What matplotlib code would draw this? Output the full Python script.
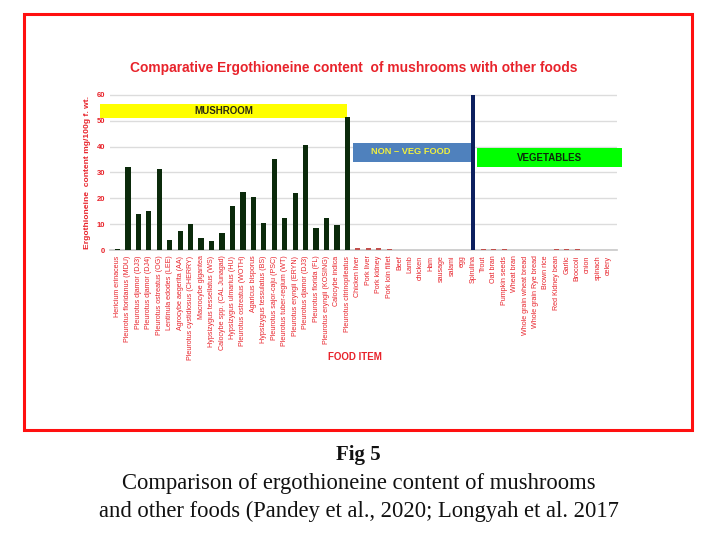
import matplotlib
matplotlib.use("Agg")
import matplotlib.pyplot as plt
from matplotlib.patches import Rectangle

mushrooms = ["Hericium erinaceus", "Pleurotus floridanus (MDU)", "Pleurotus djamor (DJ3)",
             "Pleurotus djamor (DJ4)", "Pleurotus ostreatus (OG)", "Lentinula edodes (LEE)",
             "Agrocybe aegerita (AA)", "Pleurotus cystidiosus (CHERRY)", "Macrocybe gigantea",
             "Hypsizygus tessellatus (WS)", "Calocybe spp. (CAL Junagad)", "Hypsizygus ulmarius (HU)",
             "Pleurotus ostreatus (WOTH)", "Agaricus bisporus", "Hypsizygus tessulatus (BS)",
             "Pleurotus sajor-caju (PSC)", "Pleurotus tuber-regium (WT)", "Pleurotus eryngii (ERYN)",
             "Pleurotus djamor (DJ3)", "Pleurotus florida (FL)", "Pleurotus eryngii (KOSING)",
             "Calocybe indica", "Pleurotus citrinopileatus"]
mushroom_vals = [0.3, 32, 14, 15, 31.5, 4, 7.5, 10, 4.5, 3.5, 6.5, 17, 22.5, 20.5, 10.5,
                 35, 12.5, 22, 40.5, 8.5, 12.5, 9.5, 51.5]

nonveg = ["Chicken liver", "Pork liver", "Pork kidney", "Pork loin fillet", "Beef", "Lamb",
          "chicken", "Ham", "sausage", "salami", "egg"]
nonveg_vals = [0.8, 0.8, 0.7, 0.2, 0.15, 0.15, 0.15, 0.15, 0.15, 0.15, 0.15]

spirulina = ["Spirulina"]
spirulina_vals = [60]

vegetables = ["Trout", "Oat bran", "Pumpkin seeds", "Wheat bran", "Whole grain wheat bread",
              "Whole grain Rye bread", "Brown rice", "Red Kidney bean", "Garlic", "Broccoli",
              "onion", "spinach", "celery"]
veg_vals = [0.2, 0.5, 0.2, 0.15, 0.15, 0.15, 0.15, 0.5, 0.4, 0.2, 0.15, 0.15, 0.15]

yticks = [0, 10, 20, 30, 40, 50, 60]

RED = "#e8232b"
fig = plt.figure(figsize=(7.17, 5.35), dpi=100)
fig.patch.set_facecolor("white")

# red frame
fig.patches.append(Rectangle((0.0335, 0.196), 0.9315, 0.7775, transform=fig.transFigure,
                             fill=False, edgecolor="#ff1010", lw=2.2))

ax = fig.add_axes([0.1534, 0.5327, 0.7071, 0.2916])
labels = mushrooms + nonveg + spirulina + vegetables
n1, n2, n3 = len(mushrooms), len(nonveg), len(spirulina)
x_m = list(range(n1))
x_n = list(range(n1, n1 + n2))
x_s = list(range(n1 + n2, n1 + n2 + n3))
x_v = list(range(n1 + n2 + n3, len(labels)))

ax.bar(x_m, mushroom_vals, width=0.5, color="#0b2a0b", zorder=3)
ax.bar(x_n, nonveg_vals, width=0.5, color="#c0504d", zorder=3)
ax.bar(x_s, spirulina_vals, width=0.4, color="#0c1f5e", zorder=3)
ax.bar(x_v, veg_vals, width=0.5, color="#c0504d", zorder=3)

ax.set_xlim(-0.72, 47.8)
ax.set_ylim(0, 60.3)
ax.set_yticks(yticks)
ax.set_yticklabels([str(v) for v in yticks], color=RED, fontsize=5.5, fontweight="bold",
                   family="Liberation Sans")
ax.set_xticks(range(len(labels)))
ax.set_xticklabels(labels, rotation=90, color=RED, fontsize=5.1, family="Liberation Sans")
ax.tick_params(length=0, pad=4)
ax.tick_params(axis="y", pad=3.5)
ax.grid(axis="y", color="#dcdcdc", lw=1, zorder=0)
for s in ["top", "right", "left"]:
    ax.spines[s].set_visible(False)
ax.spines["bottom"].set_color("#c8c8c8")
ax.spines["bottom"].set_linewidth(1.2)

# group boxes
ax.add_patch(Rectangle((-1.67, 51.0), 23.6, 5.6, facecolor="#ffff00", edgecolor="none",
                       zorder=2, clip_on=False))
ax.text(10.2, 53.9, "MUSHROOM", ha="center", va="center", fontsize=7, fontweight="bold",
        color="#2a2a10", family="Liberation Sans", zorder=4)
ax.add_patch(Rectangle((22.5, 34.0), 11.3, 7.3, facecolor="#4f81bd", edgecolor="none",
                       zorder=2, clip_on=False))
ax.text(28.1, 38.2, "NON – VEG FOOD", ha="center", va="center", fontsize=6.7, fontweight="bold",
        color="#f0f040", family="Liberation Sans", zorder=4)
ax.add_patch(Rectangle((34.4, 31.9), 13.9, 7.6, facecolor="#00ff00", edgecolor="none",
                       zorder=2, clip_on=False))
ax.text(41.3, 35.7, "VEGETABLES", ha="center", va="center", fontsize=7, fontweight="bold",
        color="#0d2a0d", family="Liberation Sans", zorder=4)

fig.text(0.493, 0.873, "Comparative Ergothioneine content  of mushrooms with other foods",
         ha="center", va="center", color=RED, fontsize=9.9, fontweight="bold",
         family="Liberation Sans")
fig.text(0.1227, 0.678, "Ergothioneine  content mg/100g f. wt.", rotation=90,
         ha="center", va="center", color=RED, fontsize=6.1, fontweight="bold",
         family="Liberation Sans")
fig.text(0.495, 0.333, "FOOD ITEM", ha="center", va="center", color=RED, fontsize=7,
         fontweight="bold", family="Liberation Sans")

fig.text(0.5, 0.149, "Fig 5", ha="center", va="center", fontsize=15, fontweight="bold",
         family="Liberation Serif", color="#111111")
fig.text(0.5, 0.097, "Comparison of ergothioneine content of mushrooms", ha="center",
         va="center", fontsize=16.3, family="Liberation Serif", color="#111111")
fig.text(0.5, 0.045, "and other foods (Pandey et al., 2020; Longyah et al. 2017", ha="center",
         va="center", fontsize=16.3, family="Liberation Serif", color="#111111")

fig.savefig("out.png", dpi=100, facecolor="white")
